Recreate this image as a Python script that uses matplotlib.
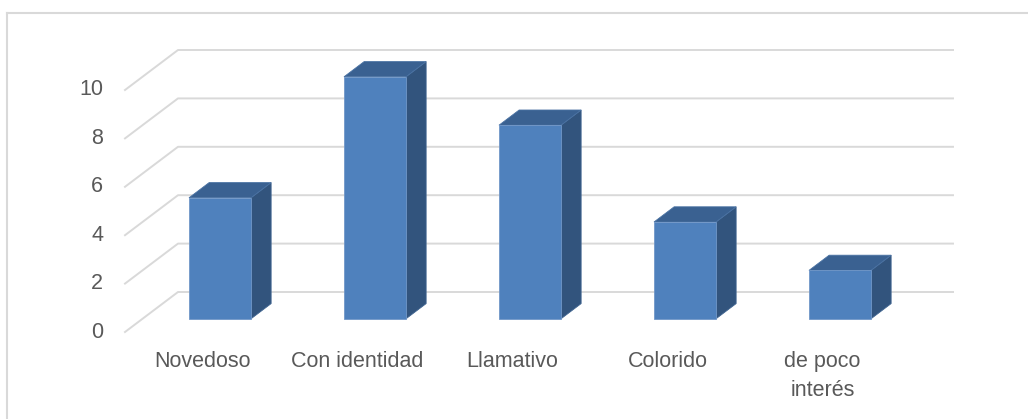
import numpy as np
import matplotlib
matplotlib.use('Agg')
import matplotlib.pyplot as plt
from matplotlib.patches import Polygon
from matplotlib.lines import Line2D

plt.rcParams['font.family'] = ['Liberation Sans', 'DejaVu Sans']

categorias = ['Novedoso', 'Con identidad', 'Llamativo', 'Colorido', 'de poco\ninterés']
valores = [5, 10, 8, 4, 2]
ticks_y = [0, 2, 4, 6, 8, 10]

# vector de profundidad (pseudo 3D) en unidades de datos
px_x = 155.0    # pixeles por categoria
px_y = 24.2     # pixeles por unidad
prof_x = 53 / px_x
prof_y = 40 / px_y
d0, d1 = 0.33, 0.71    # profundidad de la cara frontal y trasera de la barra
ancho = 0.4

c_frente = '#4F81BD'
c_lado = '#32547D'
c_arriba = '#3A6191'
c_grid = '#D9D9D9'
c_texto = '#595959'

W, H = 1028, 419
fig = plt.figure(figsize=(W / 100, H / 100), dpi=100)
ax = fig.add_axes([0, 0, 1, 1])
x0 = -0.5 - 125 / px_x
ax.set_xlim(x0, x0 + W / px_x)
y1 = 332 / px_y
ax.set_ylim(y1 - H / px_y, y1)
ax.axis('off')

# marco del grafico
fig.add_artist(Line2D([7 / W, 7 / W], [0, 1 - 13 / H], color=c_grid, lw=1.5))
fig.add_artist(Line2D([7 / W, 1], [1 - 13 / H, 1 - 13 / H], color=c_grid, lw=1.5))

# lineas de division: diagonal del piso + pared del fondo
n = len(categorias)
for v in ticks_y:
    ax.plot([-0.5, -0.5 + prof_x, n - 0.5 + prof_x],
            [v, v + prof_y, v + prof_y], color=c_grid, lw=1.4, zorder=1)
    ax.text(-0.5 - 22 / px_x, v, str(v), ha='right', va='center',
            fontsize=15.5, color=c_texto)

# barras
for i, v in enumerate(valores):
    xl, xr = i - ancho / 2, i + ancho / 2
    fx0, fy0 = d0 * prof_x, d0 * prof_y
    fx1, fy1 = d1 * prof_x, d1 * prof_y
    frente = [(xl + fx0, fy0), (xr + fx0, fy0), (xr + fx0, v + fy0), (xl + fx0, v + fy0)]
    lado = [(xr + fx0, fy0), (xr + fx1, fy1), (xr + fx1, v + fy1), (xr + fx0, v + fy0)]
    arriba = [(xl + fx0, v + fy0), (xr + fx0, v + fy0), (xr + fx1, v + fy1), (xl + fx1, v + fy1)]
    ax.add_patch(Polygon(lado, closed=True, facecolor=c_lado, edgecolor='#3F6490', lw=0.6, zorder=3))
    ax.add_patch(Polygon(arriba, closed=True, facecolor=c_arriba, edgecolor='#4A72A3', lw=0.6, zorder=3))
    ax.add_patch(Polygon(frente, closed=True, facecolor=c_frente, edgecolor='#7197C8', lw=0.6, zorder=4))

# etiquetas de categorias
for i, c in enumerate(categorias):
    ax.text(i, -0.8, c, ha='center', va='top', fontsize=15.5, color=c_texto,
            linespacing=1.45, multialignment='center')

fig.savefig('out.png', dpi=100)
